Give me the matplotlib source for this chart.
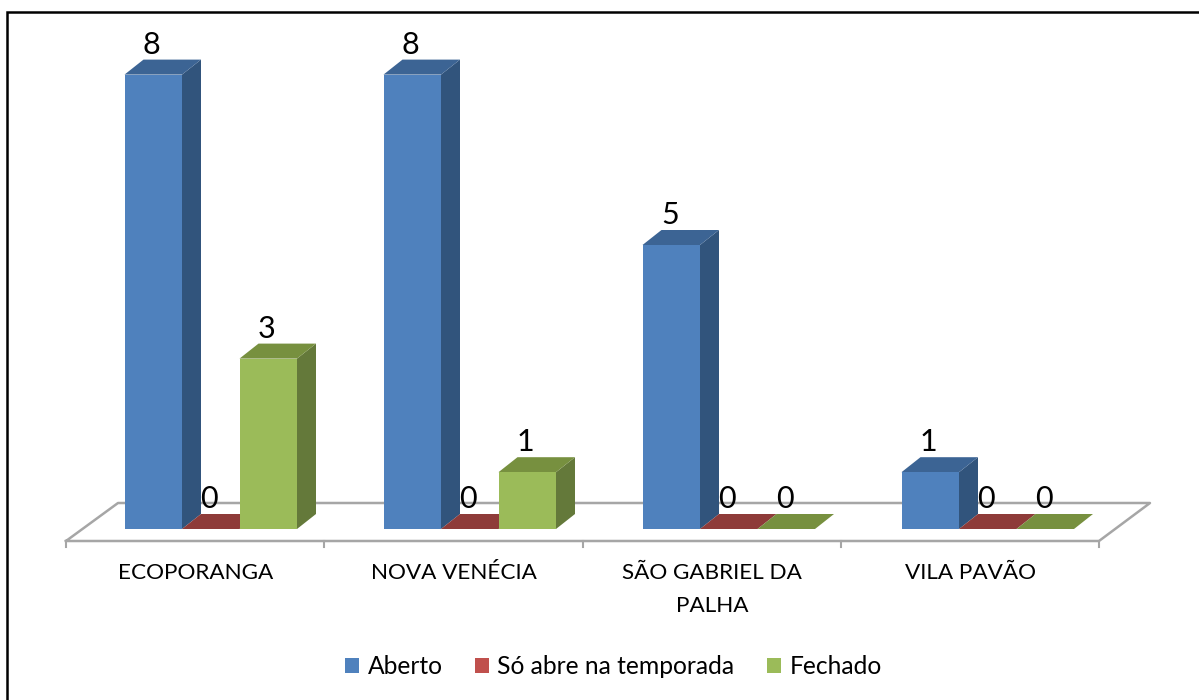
import matplotlib
matplotlib.use("Agg")
import matplotlib.pyplot as plt
from matplotlib.patches import Patch, Polygon

categories = ["ECOPORANGA", "NOVA VENÉCIA", "SÃO GABRIEL DA\nPALHA", "VILA PAVÃO"]
series_names = ["Aberto", "Só abre na temporada", "Fechado"]
aberto = [8, 8, 5, 1]
so_temporada = [0, 0, 0, 0]
fechado = [3, 1, 0, 0]

front = ["#4F81BD", "#C0504D", "#9BBB59"]
side = ["#31547C", "#7E3331", "#64793A"]
top = ["#3C6494", "#8E3B39", "#77903F"]

W, H = 1199, 700
GROUP_PX = 259.0
UNIT_PX = 56.8
X0_PX = 124.5    # left of the first bar
Y0_PX = 529.0    # bar base
BAR = 57.5 / GROUP_PX
DX = 19 / GROUP_PX
DY = 15 / UNIT_PX

plt.rcParams["font.family"] = ["Lato", "DejaVu Sans"]

fig = plt.figure(figsize=(W / 100, H / 100), dpi=100)
ax = fig.add_axes([0, 0, 1, 1])
ax.set_xlim(-X0_PX / GROUP_PX, (W - X0_PX) / GROUP_PX)
ax.set_ylim((Y0_PX - H) / UNIT_PX, Y0_PX / UNIT_PX)
ax.axis("off")


def px(x, y):
    return (x - X0_PX) / GROUP_PX, (Y0_PX - y) / UNIT_PX


# outer frame, only left and top sit inside the picture
ax.plot(*zip(px(6.5, H), px(6.5, 11.5), px(W, 11.5)), color="black", lw=1.8, solid_joinstyle="miter")

# floor
grey = "#A6A6A6"
ax.plot(*zip(px(66, 541), px(118, 503), px(1150, 503), px(1099, 541), px(66, 541)), color=grey, lw=1.8)
for i in range(len(categories) + 1):
    t = 66 + i * (1099 - 66) / len(categories)
    ax.plot(*zip(px(t, 541), px(t, 547)), color=grey, lw=1.5)

for i, vals in enumerate(zip(aberto, so_temporada, fechado)):
    for s, v in enumerate(vals):
        x = i + s * BAR
        if v > 0:
            ax.add_patch(Polygon([(x + BAR, 0), (x + BAR + DX, DY), (x + BAR + DX, v + DY), (x + BAR, v)],
                                 fc=side[s], ec="none", zorder=3 + s * 0.1))
        ax.add_patch(Polygon([(x, v), (x + DX, v + DY), (x + BAR + DX, v + DY), (x + BAR, v)],
                             fc=top[s], ec="none", zorder=3 + s * 0.1))
        if v > 0:
            ax.bar(x, v, BAR, align="edge", color=front[s], zorder=3 + s * 0.1 + 0.05)
        ax.text(x + BAR / 2 - 1.5 / GROUP_PX, v + DY + 1 / UNIT_PX, str(v), ha="center", va="bottom",
                fontsize=22, color="black", zorder=10)

for i, name in enumerate(categories):
    tx, ty = px(195.7 + i * 258.25, 563)
    ax.text(tx, ty, name, ha="center", va="top", fontsize=16.2, color="black", linespacing=1.8)

handles = [Patch(fc=c, ec="none", label=n) for c, n in zip(front, series_names)]
fig.legend(handles=handles, ncol=3, loc="center", bbox_to_anchor=(613.5 / W, 1 - 667 / H), frameon=False,
           fontsize=17.7, handlelength=0.55, handleheight=0.55, handletextpad=0.36, columnspacing=1.33)

fig.savefig("out.png", dpi=100)
